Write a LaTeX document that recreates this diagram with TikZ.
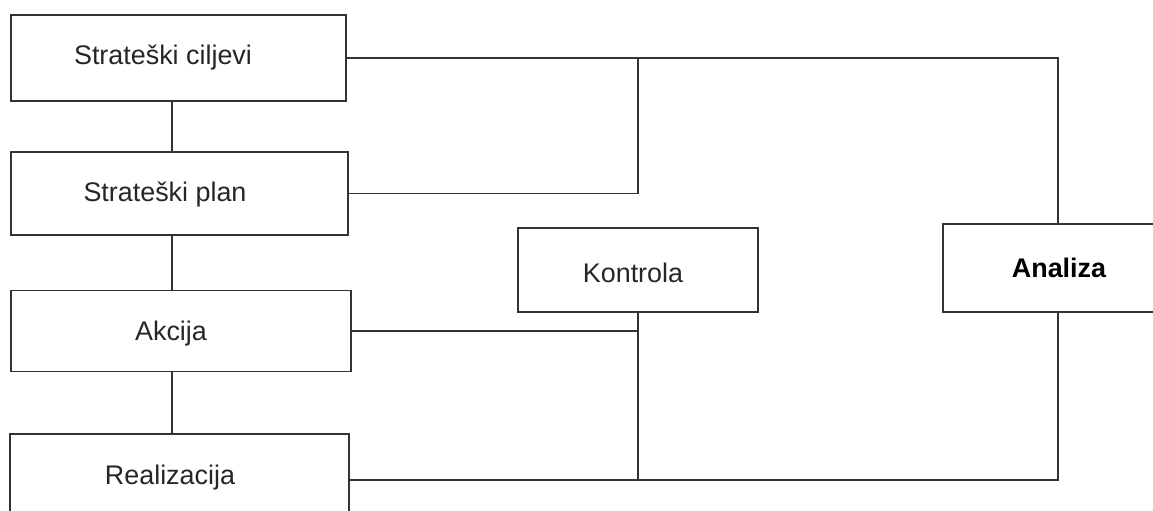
\documentclass[tikz,border=0pt]{standalone}
\usepackage{fontspec}
\setmainfont{Liberation Sans}
\usetikzlibrary{calc}
\tikzset{
  box/.style={draw=black!80, line width=1.3bp, fill=white, rectangle, inner sep=0pt},
  lbl/.style={font=\fontsize{27}{32}\selectfont, text=black!85},
  conn/.style={draw=black!80, line width=1.3bp}
}
\begin{document}
\begin{tikzpicture}[x=1bp,y=-1bp]
\useasboundingbox (0,0) rectangle (1153,511);
\clip (0,0) rectangle (1153,511);
\fill[white] (0,0) rectangle (1153,511);
\coordinate (vx) at (172,0);
\node[box, minimum width=335bp, minimum height=86bp] (c1) at (178.5,58) {};
\node[box, minimum width=337bp, minimum height=83bp] (c2) at (179.5,193.5) {};
\node[box, minimum width=340bp, minimum height=81bp] (c3) at (181,331) {};
\node[box, minimum width=339bp, minimum height=92bp] (c4) at (179.5,480) {};
\node[box, minimum width=240bp, minimum height=84bp] (ko) at (638,270) {};
\node[box, minimum width=230bp, minimum height=88bp] (an) at (1058,268) {};
\node[lbl] (t1) at (163,58) {Strateški ciljevi};
\node[lbl] (t2) at (165,195) {Strateški plan};
\node[lbl] (t3) at (171,334) {Akcija};
\node[lbl] (t4) at (170,478) {Realizacija};
\node[lbl] (t5) at (633,273) {Kontrola};
\node[lbl, font=\fontsize{27}{32}\selectfont\bfseries, text=black] (t6) at (1059,268) {Analiza};
\draw[conn] (c1.south -| vx) -- (c2.north -| vx);
\draw[conn] (c2.south -| vx) -- (c3.north -| vx);
\draw[conn] (c3.south -| vx) -- (c4.north -| vx);
\draw[conn] (c1.east) -| (an.north);
\draw[conn] (c2.east) -| (ko.south |- c1.east);
\draw[conn] (c3.east) -- (ko.south |- c3.east);
\draw[conn] (ko.south) -- (ko.south |- c4.east);
\draw[conn] (c4.east) -| (an.south);
\end{tikzpicture}
\end{document}
